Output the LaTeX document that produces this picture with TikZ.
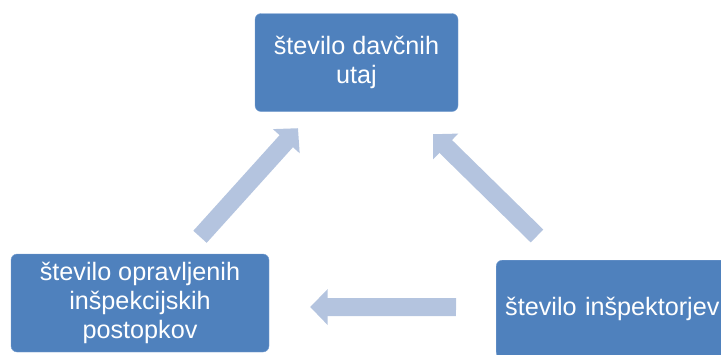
\documentclass[tikz,border=0pt]{standalone}
\usepackage{fontspec}
\setmainfont{Liberation Sans}
\usetikzlibrary{arrows.meta, positioning, calc}
\definecolor{boxblue}{RGB}{79, 129, 189}
\definecolor{boxedge}{RGB}{120, 160, 210}
\definecolor{flowblue}{RGB}{180, 196, 223}

\begin{document}
\begin{tikzpicture}[
        x=1pt, y=1pt,
        box/.style={rectangle, rounded corners=6pt, draw=boxedge, fill=boxblue,
                    text=white, align=center, font=\fontsize{25.2}{29}\selectfont,
                    inner sep=0pt, minimum height=98pt},
        flow/.style={-{Triangle[length=17.5pt, width=35pt]}, line width=18pt, flowblue},
    ]
        \useasboundingbox (0,0) rectangle (721,-354);

        \node[box, minimum width=203pt] (utaj) at (356.5,-62.5) {število davčnih\\utaj};
        \node[box, minimum width=258pt] (ops) at (140,-303) {število opravljenih\\inšpekcijskih\\postopkov};
        \node[box, minimum width=258pt, anchor=north west, text width=240pt, align=left,
              inner xsep=9pt] (ins) at (496,-260) {število inšpektorjev};

        \draw[flow] ([shift={(60pt,17pt)}]ops.north) -- ([shift={(-58.5pt,-16.5pt)}]utaj.south);
        \draw[flow] ([shift={(41pt,24pt)}]ins.north west) -- ([shift={(-25pt,-22.5pt)}]utaj.south east);
        \draw[flow] ([shift={(-40pt,2pt)}]ins.west) -- ([shift={(41pt,-4pt)}]ops.east);

    \end{tikzpicture}
\end{document}
